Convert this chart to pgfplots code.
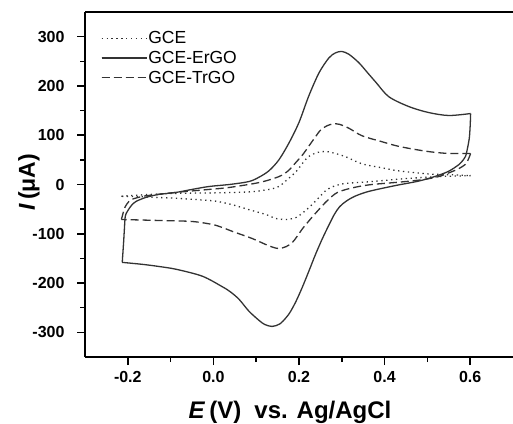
\documentclass[border=0pt]{standalone}
\usepackage{fontspec}
\setmainfont{Liberation Sans}
\usepackage{pgfplots}
\pgfplotsset{compat=1.18}
\begin{document}
\begin{tikzpicture}
\useasboundingbox (-85pt,-66pt) rectangle (428pt,357pt);
\begin{axis}[
  at={(0,0)}, anchor=south west,
  scale only axis, width=428pt, height=345pt,
  xmin=-0.3, xmax=0.7, ymin=-350, ymax=350,
  axis x line=bottom, axis y line=left,
  x axis line style={-, line width=2pt, black}, y axis line style={-, line width=2pt, black},
  xtick={-0.2,0,0.2,0.4,0.6}, xticklabels={-0.2,0.0,0.2,0.4,0.6},
  ytick={-300,-200,-100,0,100,200,300}, yticklabels={-300,-200,-100,0,100,200,300},
  minor x tick num=1, minor y tick num=1,
  tick align=outside,
  major tick length=8pt, minor tick length=5pt,
  major tick style={black, line width=1.6pt},
  minor tick style={black, line width=1.5pt},
  tick label style={font=\fontsize{16}{17}\selectfont\bfseries},
  yticklabel style={xshift=-9pt},
  xticklabel style={yshift=-3pt},
  xlabel={\textit{E}\,(V)\hspace{0.55em}vs. Ag/AgCl},
  xlabel style={font=\fontsize{24}{24}\selectfont\bfseries, at={(axis description cs:0.479,0)}, anchor=base, yshift=-61pt},
  ylabel={\textit{I}\,(μA)},
  every axis y label/.style={at={(axis description cs:-0.117,0.507)}, rotate=90, anchor=base, font=\fontsize{23}{23}\selectfont\bfseries},
  legend style={draw=none, fill=none, at={(axis description cs:0.037,0.947)}, anchor=north west, font=\fontsize{17.5}{19}\selectfont, inner sep=0pt, row sep=4pt, nodes={inner sep=1pt}},
  legend cell align=left,
  legend image code/.code={\draw[#1] (0pt,0pt) -- (40pt,0pt); \path (0pt,0pt) -- (45pt,0pt);},
]
% upper branches (legend)
\addplot[line width=1.3pt, black!80, dash pattern=on 1.3pt off 3.6pt, smooth, tension=0.5] coordinates {
(-0.215,-24) (-0.166,-21) (-0.087,-18) (0.000,-17) (0.083,-15) (0.130,-10) (0.153,-4) (0.170,8) (0.193,26) (0.210,45) (0.223,57) (0.243,65) (0.263,67) (0.285,63) (0.310,56) (0.347,42) (0.393,34) (0.430,28) (0.472,24) (0.510,21) (0.550,20) (0.601,18)
};
\addlegendentry{GCE}
\addplot[line width=1.3pt, black!80, smooth, tension=0.5] coordinates {
(-0.213,-158) (-0.210,-120) (-0.208,-91) (-0.206,-65) (-0.202,-56) (-0.197,-49) (-0.190,-41) (-0.180,-34) (-0.157,-26) (-0.127,-20) (-0.087,-16) (-0.050,-10) (-0.010,-4) (0.037,0) (0.083,6) (0.107,15) (0.130,28) (0.153,50) (0.177,85) (0.200,126) (0.223,180) (0.247,227) (0.270,257) (0.285,267) (0.300,270) (0.317,264) (0.340,247) (0.360,227) (0.380,207) (0.410,178) (0.457,158) (0.503,146) (0.550,140) (0.601,144)
};
\addlegendentry{GCE-ErGO}
\addplot[line width=1.3pt, black!80, dash pattern=on 8pt off 4pt, smooth, tension=0.5] coordinates {
(-0.215,-71) (-0.210,-55) (-0.206,-45) (-0.198,-35) (-0.190,-30) (-0.170,-25) (-0.150,-22) (-0.087,-16) (-0.010,-10) (0.037,-6) (0.107,4) (0.153,16) (0.175,28) (0.193,45) (0.210,62) (0.223,78) (0.237,95) (0.250,110) (0.265,119) (0.280,123) (0.295,122) (0.317,114) (0.347,99) (0.393,87) (0.430,78) (0.472,71) (0.510,66) (0.550,63) (0.601,63)
};
\addlegendentry{GCE-TrGO}
% lower branches
\addplot[forget plot, line width=1.3pt, black!80, dash pattern=on 1.3pt off 3.6pt, smooth, tension=0.5] coordinates {
(0.601,18) (0.560,17) (0.526,16) (0.449,12) (0.370,6) (0.320,3) (0.300,1) (0.280,-4) (0.263,-12) (0.245,-28) (0.223,-47) (0.208,-58) (0.193,-67) (0.170,-71) (0.146,-69) (0.123,-61) (0.083,-51) (0.044,-41) (0.007,-34) (-0.033,-31) (-0.087,-28) (-0.166,-25) (-0.215,-24)
};
\addplot[forget plot, line width=1.3pt, black!80, smooth, tension=0.5] coordinates {
(0.601,144) (0.600,120) (0.598,95) (0.594,75) (0.589,57) (0.580,46) (0.573,40) (0.550,27) (0.520,17) (0.480,7) (0.426,-2) (0.363,-14) (0.330,-24) (0.310,-34) (0.295,-45) (0.283,-60) (0.270,-82) (0.254,-111) (0.238,-143) (0.223,-176) (0.207,-210) (0.193,-237) (0.180,-258) (0.170,-270) (0.155,-283) (0.137,-288) (0.120,-284) (0.107,-276) (0.083,-257) (0.060,-233) (0.040,-218) (0.020,-207) (-0.026,-186) (-0.087,-172) (-0.130,-166) (-0.166,-162) (-0.213,-158)
};
\addplot[forget plot, line width=1.3pt, black!80, dash pattern=on 8pt off 4pt, smooth, tension=0.5] coordinates {
(0.601,63) (0.598,56) (0.594,48) (0.589,41) (0.573,32) (0.557,26) (0.526,16) (0.490,10) (0.449,6) (0.410,3) (0.370,0) (0.340,-4) (0.310,-10) (0.290,-16) (0.277,-24) (0.260,-38) (0.240,-57) (0.223,-74) (0.207,-91) (0.195,-106) (0.184,-118) (0.170,-126) (0.153,-130) (0.138,-127) (0.123,-122) (0.100,-113) (0.083,-107) (0.060,-100) (0.044,-95) (0.020,-87) (-0.003,-81) (-0.050,-75) (-0.127,-73) (-0.215,-71)
};
\end{axis}
% top frame line (axis box is 428pt x 345pt at the origin)
\draw[line width=2pt, black] (0pt,345pt) -- (428pt,345pt);
\end{tikzpicture}
\end{document}
